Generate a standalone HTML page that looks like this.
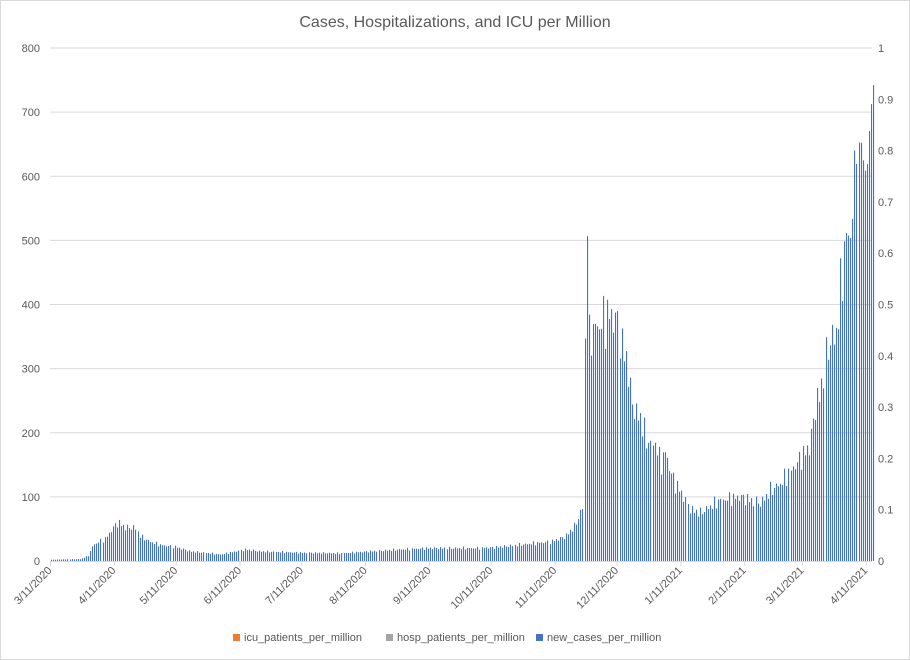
<!DOCTYPE html>
<html><head><meta charset="utf-8"><style>
body{margin:0;background:#fff;}
svg{display:block;font-family:"Liberation Sans",sans-serif;}
</style></head><body>
<svg id="c" width="910" height="660" xmlns="http://www.w3.org/2000/svg">
<rect x="0.5" y="0.5" width="909" height="659" fill="#fff" stroke="#d9d9d9"/>
<text x="455" y="27" text-anchor="middle" font-size="16" fill="#595959">Cases, Hospitalizations, and ICU per Million</text>
<g id="grid"></g>
<g id="bars"></g>
<g font-size="11" fill="#595959">
<rect x="233" y="634" width="7" height="7" fill="#ed7d31"/><text x="244" y="641">icu_patients_per_million</text>
<rect x="386" y="634" width="7" height="7" fill="#a5a5a5"/><text x="397" y="641">hosp_patients_per_million</text>
<rect x="536" y="634" width="7" height="7" fill="#4472c4"/><text x="547" y="641">new_cases_per_million</text>
</g>
</svg>
<script>
var NS="http://www.w3.org/2000/svg",g=document.getElementById('grid'),b=document.getElementById('bars');
function el(p,tag,a,t){var e=document.createElementNS(NS,tag);for(var k in a)e.setAttribute(k,a[k]);if(t)e.textContent=t;p.appendChild(e);return e;}
var y0=561,s=64.125;
for(var i=0;i<=8;i++){var y=y0-i*s;
 if(i>0)el(g,'line',{x1:50,x2:872,y1:y,y2:y,stroke:'#d9d9d9','stroke-width':1});
 el(g,'text',{x:40,y:y+4,'text-anchor':'end','font-size':11,fill:'#595959'},String(i*100));
}
var rl=['0','0.1','0.2','0.3','0.4','0.5','0.6','0.7','0.8','0.9','1'];
for(var i=0;i<=10;i++){var y=y0-i*51.3;el(g,'text',{x:878,y:y+4,'font-size':11,fill:'#595959'},rl[i]);}
el(g,'line',{x1:50,x2:872,y1:561.5,y2:561.5,stroke:'#d9d9d9'});
var dates=['3/11/2020','4/11/2020','5/11/2020','6/11/2020','7/11/2020','8/11/2020','9/11/2020','10/11/2020','11/11/2020','12/11/2020','1/11/2021','2/11/2021','3/11/2021','4/11/2021'];
var days=[0,31,61,92,122,153,184,214,245,275,306,337,365,396];
days.forEach(function(d,i){var x=50.5+d*2.06;
 el(g,'line',{x1:x,x2:x,y1:561,y2:566,stroke:'#d9d9d9'});
 el(g,'text',{x:x+2,y:571,'text-anchor':'end','font-size':11,fill:'#595959',transform:'rotate(-45 '+(x+2)+' 571)'},dates[i]);
});
var kp=[[51,2],[80,3],[88,8],[93,25],[105,35],[114,55],[118,60],[125,52],[135,52],[140,38],[150,30],[160,25],[175,22],[190,15],[210,12],[220,10],[245,18],[260,15],[300,13],[340,12],[360,14],[400,18],[430,20],[480,20],[500,22],[530,27],[550,30],[565,38],[575,55],[583,85],[585,425],[587,527],[589,355],[600,370],[610,385],[618,370],[622,330],[627,310],[630,260],[635,230],[640,225],[645,195],[650,180],[655,185],[660,150],[665,170],[670,140],[675,120],[680,110],[685,95],[690,80],[700,75],[710,85],[720,95],[740,100],[760,90],[770,110],[780,120],[790,140],[800,160],[810,180],[815,240],[820,260],[825,310],[830,350],[835,345],[840,420],[845,500],[850,510],[855,590],[858,650],[860,660],[863,620],[866,600],[868,650],[870,700],[873,743]];
function val(x){for(var i=1;i<kp.length;i++){if(x<=kp[i][0]){var a=kp[i-1],c=kp[i];var t=(x-a[0])/(c[0]-a[0]);return a[1]+(c[1]-a[1])*t;}}return kp[kp.length-1][1];}
for(var x=51;x<=874;x+=2.06){var v=val(x);
 var j=1+0.08*Math.sin(x*1.7)+0.05*Math.sin(x*0.9);if((x>584&&x<590)||x>855)j=1;
 v*=j;var h=v*s/100;var xi=Math.round(x);
 el(b,'rect',{x:xi,y:y0-h,width:1.1,height:h,fill:'#4472c4'});
}
</script>
</body></html>
